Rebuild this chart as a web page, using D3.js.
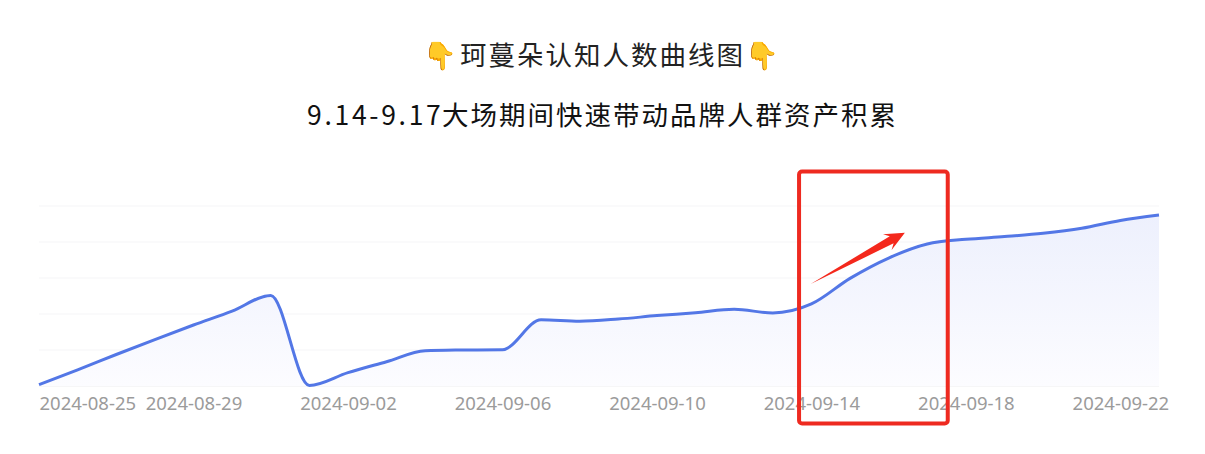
<!DOCTYPE html>
<html><head><meta charset="utf-8">
<script src="https://cdnjs.cloudflare.com/ajax/libs/d3/7.8.5/d3.min.js"></script>
<style>html,body{margin:0;padding:0;background:#fff}svg{display:block}</style></head>
<body><svg id="c" width="1205" height="454"></svg>
<script>
const titleEmoji = "👇";
const titleLine1 = "珂蔓朵认知人数曲线图";
const titleNumbers = "9.14-9.17";
const titleLine2 = "大场期间快速带动品牌人群资产积累";
const startDate = "2024-08-25";
const tickDates = ["2024-08-25","2024-08-29","2024-09-02","2024-09-06","2024-09-10","2024-09-14","2024-09-18","2024-09-22"];
const values = [0.8,9,17.5,25.8,33.9,41.6,50.3,0.3,7.4,13.5,19.6,20,20.2,36.8,36,37.2,39.1,40.7,42.6,40.6,45.6,59.8,71.1,78.9,81.5,83,84.8,87.6,92,95];
const gridValues = [0,20,40,60,80,100];
const highlightBox = {from:19.68, to:23.53, top:119.2, bottom:-20.8};
const arrowFrom = [19.98,56.7];
const arrowTo = [22.42,85.2];

const svg = d3.select("#c");
const parse = d3.utcParse("%Y-%m-%d");
const day0 = parse(startDate);
const dates = values.map((_,i)=>d3.utcDay.offset(day0,i));
const x = d3.scaleUtc().domain([dates[0],dates[dates.length-1]]).range([39,1159]);
const y = d3.scaleLinear().domain([0,100]).range([386,206]);
const xd = d => x(dates[0]) + d*(x(dates[1])-x(dates[0]));

const defs = svg.append("defs");
const g = defs.append("linearGradient").attr("id","fill").attr("x1",0).attr("x2",0).attr("y1",0).attr("y2",1);
g.append("stop").attr("offset",0).attr("stop-color","#edf0fd");
g.append("stop").attr("offset",1).attr("stop-color","#fcfcff");

svg.append("g").selectAll("line").data(gridValues).join("line")
  .attr("x1",39).attr("x2",1159).attr("y1",d=>y(d)).attr("y2",d=>y(d))
  .attr("stroke",d=>d===0?"#f3f3f5":"#f9f9fa").attr("stroke-width",1.5);

const curve = d3.curveMonotoneX;
svg.append("path").datum(values)
  .attr("d",d3.area().x((d,i)=>x(dates[i])).y0(y(0)).y1(d=>y(d)).curve(curve))
  .attr("fill","url(#fill)");
svg.append("path").datum(values)
  .attr("d",d3.line().x((d,i)=>x(dates[i])).y(d=>y(d)).curve(curve))
  .attr("fill","none").attr("stroke","#5377e6").attr("stroke-width",3);

const axis = d3.axisBottom(x).tickValues(tickDates.map(parse)).tickSize(0).tickPadding(11)
  .tickFormat(d3.utcFormat("%Y-%m-%d"));
const ax = svg.append("g").attr("transform",`translate(0,${y(0)})`).call(axis);
ax.select(".domain").remove();
ax.selectAll("text").attr("fill","#9b9b9b").attr("font-family","'Noto Sans',sans-serif").attr("font-size",18.5)
  .attr("text-anchor",(d,i)=>i===0?"start":"middle");

svg.append("rect")
  .attr("x",xd(highlightBox.from)).attr("width",xd(highlightBox.to)-xd(highlightBox.from))
  .attr("y",y(highlightBox.top)).attr("height",y(highlightBox.bottom)-y(highlightBox.top))
  .attr("rx",3).attr("fill","none").attr("stroke","#ee2a20").attr("stroke-width",4);

const ax0=xd(arrowFrom[0]), ay0=y(arrowFrom[1]), ax1=xd(arrowTo[0]), ay1=y(arrowTo[1]);
const a=Math.atan2(ay1-ay0,ax1-ax0), u=[Math.cos(a),Math.sin(a)], n=[-u[1],u[0]];
const pt=(l,w)=>[ax1-u[0]*l+n[0]*w, ay1-u[1]*l+n[1]*w];
svg.append("polygon").attr("fill","#f4281c")
  .attr("points",[[ax0,ay0],pt(15,-4),pt(20,-9),[ax1,ay1],pt(20,9),pt(15,4)].map(p=>p.join(",")).join(" "));

const cjk = "'Noto Sans CJK SC','Noto Sans',sans-serif";
const t1 = svg.append("text").attr("y",65).attr("font-family",cjk).attr("fill","#222");
t1.append("tspan").attr("x",423).attr("font-size",27).text(titleEmoji);
t1.append("tspan").attr("x",460).attr("font-size",26.5).attr("letter-spacing",2).text(titleLine1);
t1.append("tspan").attr("x",745).attr("font-size",27).text(titleEmoji);
const t2 = svg.append("text").attr("y",125).attr("font-family",cjk).attr("fill","#111");
t2.append("tspan").attr("x",307).attr("font-size",26.5).attr("letter-spacing",2.7).text(titleNumbers);
t2.append("tspan").attr("x",442).attr("font-size",26.5).attr("letter-spacing",2).text(titleLine2);
</script></body></html>
